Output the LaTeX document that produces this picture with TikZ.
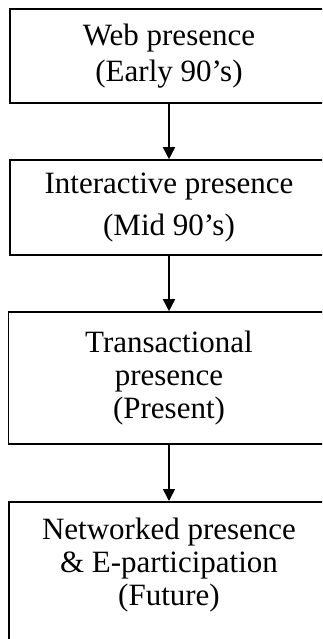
\documentclass[tikz,border=0pt]{standalone}
\usepackage{fontspec}
\setmainfont{Liberation Serif}
\usetikzlibrary{arrows.meta,positioning}

\begin{document}
\begin{tikzpicture}[x=1pt, y=1pt,
    stage/.style={draw, line width=1.6pt, minimum width=318pt, align=center, inner sep=0pt, font=\fontsize{31}{33}\selectfont},
    flow/.style={line width=1.6pt, -{Triangle[width=12pt, length=12pt]}}]
      \clip (0, 0) rectangle (322, -639);

      \node[stage, minimum height=94pt] (web) at (169, -56) {Web presence\\[3pt](Early 90’s)};
      \node[stage, minimum height=95pt] (inter) at (169, -207.5) {Interactive presence\\[9pt](Mid 90’s)};
      \node[stage, minimum height=132pt, minimum width=321pt] (trans) at (169, -378) {Transactional\\presence\\(Present)};
      \node[stage, minimum height=160pt, minimum width=320pt, anchor=north, text depth=41pt] (net) at (169, -501) {Networked presence\\\& E-participation\\(Future)};

      \draw[flow] (web) -- (inter);
      \draw[flow] (inter) -- (trans);
      \draw[flow] (trans) -- (net);
    \end{tikzpicture}
\end{document}
